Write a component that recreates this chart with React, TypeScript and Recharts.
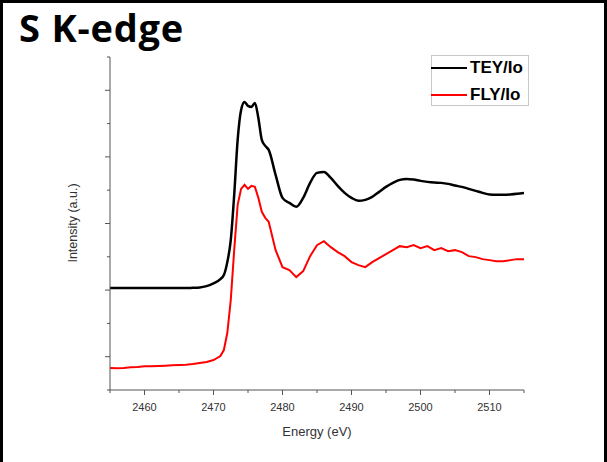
import { LineChart, Line, XAxis, YAxis, Legend } from 'recharts';

const energy = [
  2455, 2456, 2457, 2458, 2459, 2460, 2461, 2462, 2463, 2464, 2465, 2466, 2467, 2468, 2469, 2470, 2471,
  2471.5, 2472, 2472.5, 2473, 2473.5, 2474, 2474.5, 2475, 2475.5, 2476, 2476.5, 2477, 2477.5, 2478,
  2479, 2480, 2481, 2482, 2483, 2484, 2485, 2486, 2487, 2488, 2489, 2490, 2491, 2492, 2493, 2494,
  2495, 2496, 2497, 2498, 2499, 2500, 2501, 2502, 2503, 2504, 2505, 2506, 2507, 2508, 2509, 2510,
  2511, 2512, 2513, 2514, 2515,
];

const tey = [
  3.06, 3.06, 3.06, 3.06, 3.06, 3.06, 3.06, 3.06, 3.06, 3.06, 3.06, 3.06, 3.07, 3.08, 3.12, 3.2, 3.33,
  3.45, 3.84, 4.5, 5.86, 7.51, 8.41, 8.65, 8.53, 8.5, 8.62, 8.17, 7.51, 7.33, 7.21,
  6.46, 5.77, 5.62, 5.5, 5.77, 6.22, 6.52, 6.55, 6.37, 6.13, 5.92, 5.77, 5.68, 5.71, 5.8, 5.95,
  6.1, 6.22, 6.31, 6.34, 6.32, 6.28, 6.25, 6.23, 6.22, 6.19, 6.14, 6.1, 6.04, 5.98, 5.92, 5.87,
  5.86, 5.86, 5.87, 5.89, 5.92,
];

const fly = [
  0.66, 0.65, 0.66, 0.68, 0.69, 0.71, 0.71, 0.72, 0.73, 0.74, 0.75, 0.76, 0.78, 0.81, 0.84, 0.9, 1.02,
  1.2, 1.71, 2.7, 4.2, 5.56, 6.04, 6.16, 6.04, 6.13, 6.1, 5.77, 5.35, 5.17, 5.05,
  4.2, 3.69, 3.6, 3.39, 3.57, 4.02, 4.35, 4.47, 4.29, 4.14, 4.02, 3.84, 3.75, 3.69, 3.84, 3.96,
  4.08, 4.2, 4.32, 4.29, 4.35, 4.26, 4.32, 4.2, 4.26, 4.17, 4.2, 4.14, 4.02, 3.99, 3.93, 3.9,
  3.87, 3.87, 3.9, 3.93, 3.93,
];

const xMajor = [2460, 2470, 2480, 2490, 2500, 2510];
const xMinor = [2455, 2465, 2475, 2485, 2495, 2505, 2515];
const yMajor = [1, 3, 5, 7, 9];
const yMinor = [0, 2, 4, 6, 8, 10];

const data = energy.map((e, i) => ({ e, tey: tey[i], fly: fly[i] }));

const axisColor = '#555';
const font = '"Liberation Sans", Arial, sans-serif';

function XTick(props: any) {
  const { x, y, payload } = props;
  const major = xMajor.includes(payload.value);
  return (
    <g>
      <line x1={x} y1={y} x2={x} y2={y + (major ? 5 : 3)} stroke={axisColor} strokeWidth={1} />
      {major && (
        <text x={x} y={y + 21} textAnchor="middle" fontSize={11} fill="#333" fontFamily={font}>
          {payload.value}
        </text>
      )}
    </g>
  );
}

function YTick(props: any) {
  const { x, y, payload } = props;
  const major = yMajor.includes(payload.value);
  return <line x1={x} y1={y} x2={x - (major ? 5 : 3)} y2={y} stroke={axisColor} strokeWidth={1} />;
}

function LegendBox() {
  const rows = [
    { name: 'TEY/Io', color: '#000' },
    { name: 'FLY/Io', color: '#ff0000' },
  ];
  return (
    <div style={{ border: '1px solid #c8c8c8', width: 98, height: 51, background: '#fff', boxSizing: 'border-box' }}>
      {rows.map((r, i) => (
        <div key={r.name} style={{ position: 'absolute', left: 0, top: 13 + i * 27 - 10, height: 20, display: 'flex', alignItems: 'center' }}>
          <span style={{ display: 'inline-block', width: 36, height: 2.5, background: r.color }} />
          <span style={{ marginLeft: 3, fontFamily: font, fontWeight: 700, fontSize: 17, color: '#000' }}>{r.name}</span>
        </div>
      ))}
    </div>
  );
}

export default function App() {
  return (
    <div style={{ position: 'absolute', left: 0, top: 0, width: 607, height: 462, background: '#fff' }}>
      <LineChart width={607} height={462} data={data} margin={{ top: 57, right: 83, left: 0, bottom: 22 }}>
        <XAxis
          dataKey="e"
          type="number"
          domain={[2455, 2515]}
          ticks={[...xMinor, ...xMajor].sort((a, b) => a - b)}
          interval={0}
          allowDataOverflow
          height={50}
          stroke={axisColor}
          tickLine={false}
          tickSize={0}
          tickMargin={0}
          tick={<XTick />}
          label={{ value: 'Energy (eV)', position: 'insideBottom', offset: 4, fontSize: 13, fill: '#333', fontFamily: font }}
        />
        <YAxis
          type="number"
          domain={[0, 10]}
          ticks={[...yMinor, ...yMajor].sort((a, b) => a - b)}
          interval={0}
          width={110}
          stroke={axisColor}
          tickLine={false}
          tickSize={0}
          tickMargin={0}
          tick={<YTick />}
        />
        <Legend
          layout="horizontal"
          verticalAlign="middle"
          align="center"
          content={() => <LegendBox />}
          wrapperStyle={{ position: 'absolute', left: 431, top: 55, width: 98, height: 51 }}
        />
        <Line dataKey="fly" type="linear" stroke="#ff0000" strokeWidth={2} dot={false} isAnimationActive={false} />
        <Line dataKey="tey" type="monotone" stroke="#000" strokeWidth={2.5} dot={false} isAnimationActive={false} />
      </LineChart>
      <svg width={607} height={462} style={{ position: 'absolute', left: 0, top: 0, pointerEvents: 'none' }}>
        <text x={19} y={42} fontFamily='"Open Sans", sans-serif' fontWeight={700} fontSize={38} letterSpacing={0.8} fill="#000">
          S K-edge
        </text>
        <text
          x={0}
          y={0}
          transform="translate(77 223) rotate(-90)"
          textAnchor="middle"
          fontFamily={font}
          fontSize={12.5}
          fill="#333"
        >
          Intensity (a.u.)
        </text>
      </svg>
      <div
        style={{
          position: 'absolute',
          left: 0,
          top: 0,
          width: 607,
          height: 462,
          boxSizing: 'border-box',
          borderTop: '3px solid #000',
          borderLeft: '3px solid #000',
          borderRight: '3px solid #000',
          pointerEvents: 'none',
        }}
      />
    </div>
  );
}
